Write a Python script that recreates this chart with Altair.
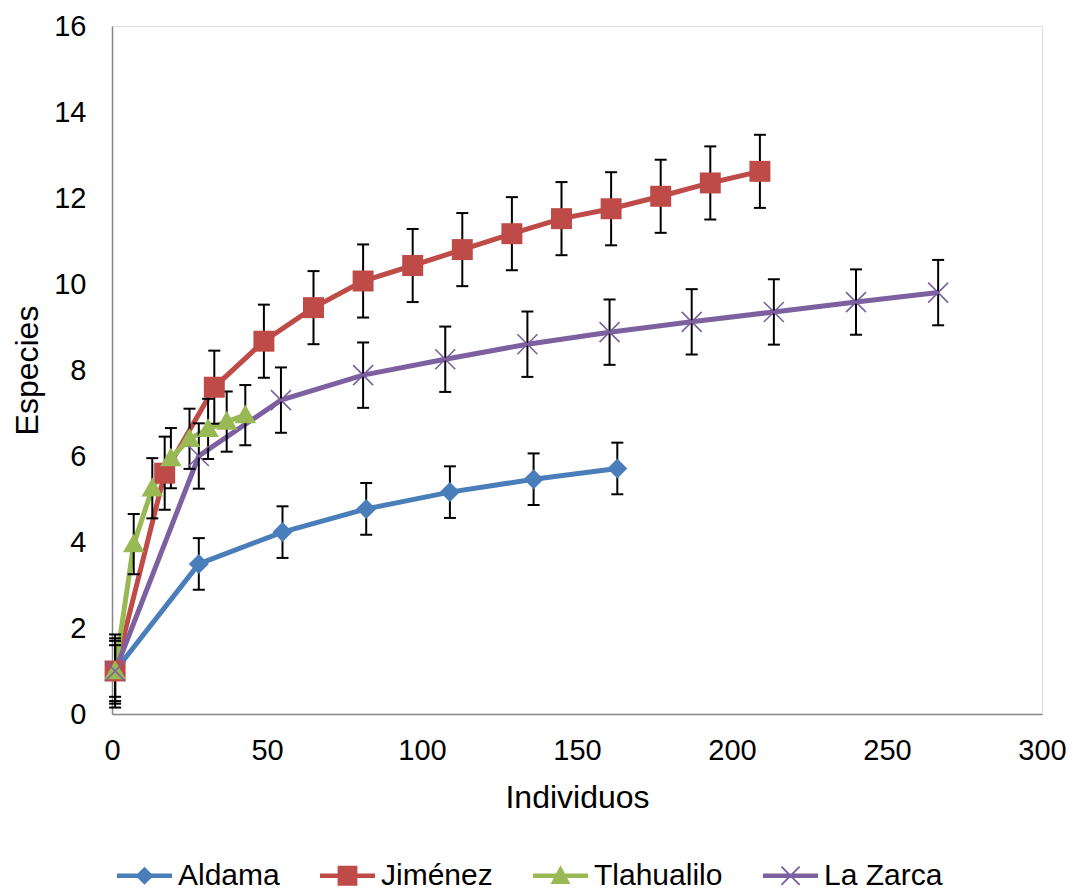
import altair as alt
import pandas as pd

# Rarefaction curves: expected number of species vs. number of individuals
series = ["Aldama", "Jiménez", "Tlahualilo", "La Zarca"]
colors = ["#4A7EBB", "#BE4B48", "#98B954", "#7D60A0"]

aldama_x = [1, 28, 55, 82, 109, 136, 163]
aldama_y = [1.0, 3.49, 4.23, 4.77, 5.16, 5.46, 5.71]
aldama_err = [0.6, 0.6, 0.6, 0.6, 0.6, 0.6, 0.6]

jimenez_x = [1, 17, 33, 49, 65, 81, 97, 113, 129, 145, 161, 177, 193, 209]
jimenez_y = [1.0, 5.6, 7.6, 8.67, 9.45, 10.07, 10.43, 10.8, 11.17, 11.52, 11.75, 12.04, 12.35, 12.62]
jimenez_err = [0.85] * 14

tlahualilo_x = [1, 7, 13, 19, 25, 31, 37, 43]
tlahualilo_y = [1.0, 3.95, 5.25, 5.95, 6.4, 6.63, 6.8, 6.95]
tlahualilo_err = [0.7] * 8

zarca_x = [1, 28, 54.5, 81, 107.5, 134, 160.5, 187, 213.5, 240, 266.5]
zarca_y = [1.0, 6.0, 7.3, 7.88, 8.25, 8.6, 8.88, 9.12, 9.35, 9.58, 9.8]
zarca_err = [0.76] * 11

x_ticks = [0, 50, 100, 150, 200, 250, 300]
y_ticks = [0, 2, 4, 6, 8, 10, 12, 14, 16]

rows = []
for name, xs, ys, es in [
    ("Aldama", aldama_x, aldama_y, aldama_err),
    ("Jiménez", jimenez_x, jimenez_y, jimenez_err),
    ("Tlahualilo", tlahualilo_x, tlahualilo_y, tlahualilo_err),
    ("La Zarca", zarca_x, zarca_y, zarca_err),
]:
    for i, (xv, yv, ev) in enumerate(zip(xs, ys, es)):
        rows.append({"serie": name, "orden": i, "x": xv, "y": yv,
                     "lo": yv - ev, "hi": yv + ev})
df = pd.DataFrame(rows)

FONT = "Liberation Sans"

# marker outlines in unit coordinates
marker_paths = [
    "M0,-1L1,0L0,1L-1,0Z",
    "M-1,-1H1V1H-1Z",
    "M0,-1.05L1.05,0.8H-1.05Z",
    "M-1,-1L1,1M-1,1L1,-1",
]
marker_sizes = [400, 440, 420, 400]
# legend swatches: a line segment with the marker on top
legend_paths = [
    "M-1,-0.08H1V0.08H-1Z M0,-0.33L0.33,0L0,0.33L-0.33,0Z",
    "M-1,-0.08H1V0.08H-1Z M-0.36,-0.36H0.36V0.36H-0.36Z",
    "M-1,-0.08H1V0.08H-1Z M0,-0.38L0.36,0.3H-0.36Z",
    "M-1,-0.08H1V0.08H-1Z M-0.305,-0.355L0.355,0.305L0.305,0.355L-0.355,-0.305Z "
    "M-0.355,0.305L0.305,-0.355L0.355,-0.305L-0.305,0.355Z",
]

x_enc = alt.X("x:Q", scale=alt.Scale(domain=[0, 300], nice=False, zero=True),
              axis=alt.Axis(values=x_ticks, title="Individuos", grid=False, ticks=False,
                            labelFontSize=29, labelPadding=22, labelFlush=False,
                            labelOverlap=False, domainColor="#868686", domainWidth=1.5,
                            labelColor="black", titleColor="black", titleFontSize=32,
                            titleFontWeight="normal", titleX=465, titleY=83,
                            titleBaseline="middle", labelFont=FONT, titleFont=FONT))
y_enc = alt.Y("y:Q", scale=alt.Scale(domain=[0, 16], nice=False),
              axis=alt.Axis(values=y_ticks, title="Especies", grid=False, ticks=False,
                            labelFontSize=29, labelPadding=26, labelFlush=False,
                            labelOverlap=False, domainColor="#868686", domainWidth=1.5,
                            labelColor="black", titleColor="black", titleFontSize=32,
                            titleFontWeight="normal", titleX=-85, titleY=344,
                            titleBaseline="middle", titleAngle=-90,
                            labelFont=FONT, titleFont=FONT))

base = alt.Chart(df)

# one line per series, drawn in series order
line_layers = []
for i, (name, col) in enumerate(zip(series, colors)):
    enc = dict(x=x_enc, y=y_enc) if i == 0 else dict(x="x:Q", y="y:Q")
    line_layers.append(
        base.transform_filter(alt.datum.serie == name)
        .mark_line(strokeWidth=5, color=col)
        .encode(order="orden:Q", **enc)
    )

bars = base.mark_rule(color="black", strokeWidth=2).encode(
    x="x:Q", y="lo:Q", y2="hi:Q",
)
caps_lo = base.mark_tick(color="black", orient="horizontal", size=12,
                         thickness=2, opacity=1).encode(x="x:Q", y="lo:Q")
caps_hi = base.mark_tick(color="black", orient="horizontal", size=12,
                         thickness=2, opacity=1).encode(x="x:Q", y="hi:Q")

# one marker layer per series, each with its own glyph
point_layers = []
for name, col, path, sz in zip(series, colors, marker_paths, marker_sizes):
    hollow = name == "La Zarca"
    point_layers.append(
        base.transform_filter(alt.datum.serie == name).mark_point(
            shape=path, size=sz, opacity=1,
            filled=not hollow, color=col,
            strokeWidth=1.6 if hollow else 0,
        ).encode(x="x:Q", y="y:Q")
    )

legend_df = pd.DataFrame({"serie": series})
legend_spec = alt.Legend(title=None, orient="none", direction="horizontal",
                         legendX=5, legendY=822, columns=4,
                         columnPadding=40, symbolSize=3025,
                         symbolOpacity=1, symbolStrokeWidth=0,
                         labelFontSize=30, labelFont=FONT,
                         labelColor="black", labelOffset=6,
                         labelLimit=400)
legend_layer = alt.Chart(legend_df).mark_point(filled=True, size=3025, opacity=0,
                                               strokeWidth=0).encode(
    color=alt.Color("serie:N", scale=alt.Scale(domain=series, range=colors),
                    legend=legend_spec),
    shape=alt.Shape("serie:N", scale=alt.Scale(domain=series, range=legend_paths),
                    legend=legend_spec),
)

chart = alt.layer(*line_layers, bars, caps_lo, caps_hi, *point_layers,
                  legend_layer).properties(
    width=930, height=688,
    autosize=alt.AutoSizeParams(type="none"),
    padding={"left": 112, "top": 26, "right": 36, "bottom": 178},
).configure_view(stroke="transparent", strokeWidth=0).configure(background="white")

chart.save("out.html", embed_options={"renderer": "svg", "actions": False})
